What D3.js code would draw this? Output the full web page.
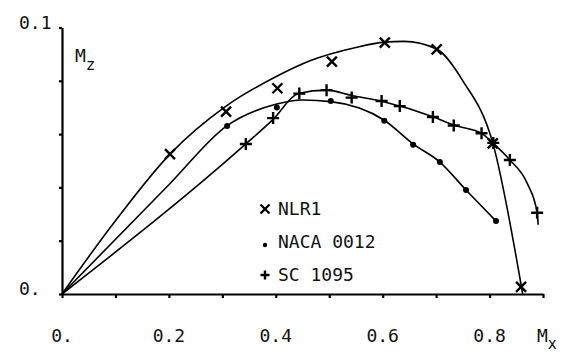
<!DOCTYPE html>
<html>
<head>
<meta charset="utf-8">
<script src="https://cdn.jsdelivr.net/npm/d3@7"></script>
<style>
  html, body { margin: 0; padding: 0; background: #fff; }
  svg text { font-family: "DejaVu Sans Mono", "Liberation Mono", monospace; fill: #111; }
</style>
</head>
<body>
<div id="chart"></div>
<script>
const nlrX = [0.202, 0.307, 0.403, 0.505, 0.604, 0.701, 0.806, 0.859];
const nlrY = [0.0525, 0.0684, 0.0772, 0.0872, 0.0943, 0.0918, 0.0565, 0.0027];

const nacaX = [0.309, 0.402, 0.503, 0.603, 0.657, 0.707, 0.756, 0.812];
const nacaY = [0.0630, 0.0700, 0.0724, 0.0650, 0.0560, 0.0495, 0.0390, 0.0274];

const scX = [0.344, 0.395, 0.444, 0.495, 0.542, 0.598, 0.632, 0.694, 0.733, 0.785, 0.807, 0.838, 0.889];
const scY = [0.0563, 0.0660, 0.0752, 0.0765, 0.0737, 0.0724, 0.0705, 0.0664, 0.0632, 0.0603, 0.0567, 0.0503, 0.0305];

// hand-drawn fit curves
const nlrCurveX = [0, 0.1, 0.202, 0.307, 0.4, 0.464, 0.55, 0.604, 0.64, 0.70, 0.75, 0.806, 0.862];
const nlrCurveY = [0, 0.0275, 0.0525, 0.0705, 0.0815, 0.0875, 0.0925, 0.0945, 0.0948, 0.092, 0.080, 0.0567, 0];

const nacaCurveX = [0, 0.2, 0.309, 0.40, 0.45, 0.503, 0.603, 0.657, 0.707, 0.756, 0.812];
const nacaCurveY = [0, 0.041, 0.0632, 0.0712, 0.0728, 0.0722, 0.0652, 0.0563, 0.0495, 0.039, 0.0274];

const scCurveX = [0, 0.344, 0.395, 0.442, 0.495, 0.542, 0.6, 0.694, 0.734, 0.786, 0.806, 0.838, 0.87, 0.889, 0.891];
const scCurveY = [0, 0.0563, 0.0655, 0.0752, 0.0765, 0.0745, 0.0722, 0.0665, 0.0633, 0.0602, 0.0567, 0.0503, 0.0417, 0.0305, 0.026];

// axes
const xTicks = [0, 0.1, 0.2, 0.3, 0.4, 0.5, 0.6, 0.7, 0.8, 0.9];
const xLabelVals = [0, 0.2, 0.4, 0.6, 0.8];
const xLabels = ["0.", "0.2", "0.4", "0.6", "0.8"];
const yTicks = [0, 0.02, 0.04, 0.06, 0.08, 0.1];
const yLabelVals = [0, 0.1];
const yLabels = ["0.", "0.1"];

const legendNames = ["NLR1", "NACA 0012", "SC 1095"];
const legendSymbols = ["cross", "dot", "plus"];

const width = 563, height = 353;

const svg = d3.select("#chart").append("svg")
    .attr("width", width)
    .attr("height", height);

const x = d3.scaleLinear().domain([0, 0.9]).range([62, 543]);
const y = d3.scaleLinear().domain([0, 0.1]).range([294, 27.5]);

// x axis
const xAxis = svg.append("g")
    .attr("transform", `translate(0,${y(0)})`)
    .call(d3.axisBottom(x).tickValues(xTicks).tickSize(4).tickSizeOuter(0).tickFormat(""));
xAxis.select(".domain").attr("stroke", "#000").attr("stroke-width", 2.2);
xAxis.selectAll(".tick line").attr("stroke", "#000").attr("stroke-width", 2.2);

// y axis
const yAxis = svg.append("g")
    .attr("transform", `translate(${x(0)},0)`)
    .call(d3.axisLeft(y).tickValues(yTicks).tickSize(3).tickSizeOuter(0).tickFormat(""));
yAxis.select(".domain").attr("stroke", "#000").attr("stroke-width", 2.2);
yAxis.selectAll(".tick line").attr("stroke", "#000").attr("stroke-width", 2.2);

// tick labels
svg.append("g").selectAll("text")
    .data(xLabelVals)
    .join("text")
    .attr("x", d => x(d))
    .attr("y", 342)
    .attr("text-anchor", "middle")
    .attr("font-size", 18)
    .text((d, i) => xLabels[i]);

svg.append("g").selectAll("text")
    .data(yLabelVals)
    .join("text")
    .attr("x", 19)
    .attr("y", d => y(d) + 1)
    .attr("font-size", 18)
    .text((d, i) => yLabels[i]);

// axis titles
const mz = svg.append("text").attr("x", 75).attr("y", 62).attr("font-size", 18);
mz.append("tspan").text("M");
mz.append("tspan").attr("dy", 8).attr("font-size", 16).text("z");

const mx = svg.append("text").attr("x", 537).attr("y", 342).attr("font-size", 18);
mx.append("tspan").text("M");
mx.append("tspan").attr("dy", 7).attr("font-size", 15).text("x");

// curves
const line = d3.line()
    .x(d => x(d[0]))
    .y(d => y(d[1]))
    .curve(d3.curveMonotoneX);

const curves = [
    d3.zip(nlrCurveX, nlrCurveY),
    d3.zip(nacaCurveX, nacaCurveY),
    d3.zip(scCurveX, scCurveY)
];

svg.append("g").selectAll("path")
    .data(curves)
    .join("path")
    .attr("d", line)
    .attr("fill", "none")
    .attr("stroke", "#000")
    .attr("stroke-width", 1.6);

// markers
function drawSymbol(g, type, cx, cy, s) {
    if (type === "cross") {
        g.append("path")
            .attr("d", `M${cx - s},${cy - s}L${cx + s},${cy + s}M${cx - s},${cy + s}L${cx + s},${cy - s}`)
            .attr("stroke", "#000").attr("stroke-width", 2.4).attr("fill", "none");
    } else if (type === "plus") {
        g.append("path")
            .attr("d", `M${cx - s},${cy}L${cx + s},${cy}M${cx},${cy - s}L${cx},${cy + s}`)
            .attr("stroke", "#000").attr("stroke-width", 2.4).attr("fill", "none");
    } else {
        g.append("circle").attr("cx", cx).attr("cy", cy).attr("r", s).attr("fill", "#000");
    }
}

const marks = svg.append("g");
d3.zip(nlrX, nlrY).forEach(d => drawSymbol(marks, "cross", x(d[0]), y(d[1]), 5));
d3.zip(nacaX, nacaY).forEach(d => drawSymbol(marks, "dot", x(d[0]), y(d[1]), 3));
d3.zip(scX, scY).forEach(d => drawSymbol(marks, "plus", x(d[0]), y(d[1]), 6));

// legend
const legend = svg.append("g");
legendNames.forEach((name, i) => {
    const ly = 215 + i * 33;
    const sz = legendSymbols[i] === "dot" ? 2.2 : 4.5;
    drawSymbol(legend, legendSymbols[i], 265, ly - 6 + (legendSymbols[i] === "dot" ? 3 : 0), sz);
    legend.append("text")
        .attr("x", 278)
        .attr("y", ly)
        .attr("font-size", 18)
        .text(name);
});
</script>
</body>
</html>
